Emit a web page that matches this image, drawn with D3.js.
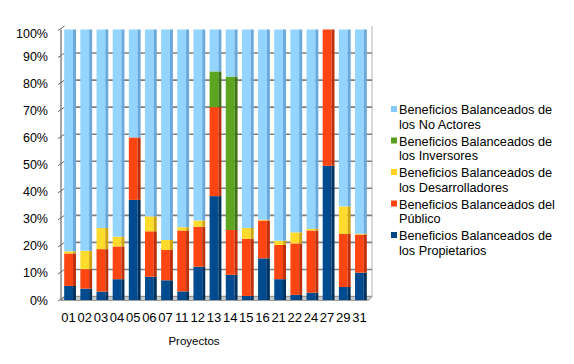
<!DOCTYPE html>
<html lang="es">
<head>
    <meta charset="UTF-8">
    <script src="https://cdn.jsdelivr.net/npm/d3@7"></script>
    <style>
        body{ margin:0; background:#fff; }
        text{ font-family:"Liberation Sans", Arial, sans-serif; fill:#000; }
    </style>
    <title>Beneficios Balanceados</title>
</head>
<body>
    <svg height="364" width="574"></svg>
    <script>
        // categorias (proyectos)
        var proyectos = ["01","02","03","04","05","06","07","11","12","13","14","15","16","21","22","24","27","29","31"];
        // valores en %, de abajo hacia arriba
        var propietarios   = [5.2, 4.2, 3.1, 7.7, 37.0, 8.6, 7.3, 3.2, 12.3, 38.4, 9.3, 1.5, 15.4, 7.7, 1.9, 2.7, 49.6, 4.8, 10.1];
        var publico        = [12.0, 7.2, 15.7, 12.1, 23.1, 16.8, 11.2, 22.5, 14.8, 32.9, 16.6, 21.1, 14.0, 12.7, 19.0, 23.0, 50.4, 19.6, 14.1];
        var desarrolladores= [0.8, 6.8, 7.8, 3.6, 0, 5.5, 3.7, 1.2, 2.3, 0, 0, 4.0, 0.3, 1.5, 4.1, 0.6, 0, 10.2, 0.3];
        var inversores     = [0, 0, 0, 0, 0, 0, 0, 0, 0, 13.2, 56.7, 0, 0, 0, 0, 0, 0, 0, 0];
        var noActores      = [82.0, 81.8, 73.4, 76.6, 39.9, 69.1, 77.8, 73.1, 70.6, 15.5, 17.4, 73.4, 70.3, 78.1, 75.0, 73.7, 0, 65.4, 75.5];
        var yTicks = [0, 0.1, 0.2, 0.3, 0.4, 0.5, 0.6, 0.7, 0.8, 0.9, 1];

        var series = [
            {key:"prop", name:["Beneficios Balanceados de","los Propietarios"], values:propietarios, color:"#004586", front:"#004b8f", side:"#00325f"},
            {key:"pub", name:["Beneficios Balanceados del","Público"], values:publico, color:"#ff420e", front:"#ff4612", side:"#bf300a"},
            {key:"dev", name:["Beneficios Balanceados de","los Desarrolladores"], values:desarrolladores, color:"#ffd320", front:"#ffdc2c", side:"#cfa514"},
            {key:"inv", name:["Beneficios Balanceados de","los Inversores"], values:inversores, color:"#579d1c", front:"#5ca51e", side:"#3e7413"},
            {key:"noa", name:["Beneficios Balanceados de","los No Actores"], values:noActores, color:"#83caff", front:"#94d5ff", side:"#6aa9dc"}
        ];

        var table = proyectos.map(function(p, i){
            var row = {proyecto:p};
            series.forEach(function(s){ row[s.key] = s.values[i]; });
            return row;
        });

        var svg = d3.select("svg");
        var depth = 3.5;

        var xScale = d3.scaleBand().domain(proyectos).range([62,369]).paddingInner(0.27).paddingOuter(0.135);
        var yScale = d3.scaleLinear().domain([0,1]).range([300,29.5]);

        // back wall + gridlines
        var g = svg.append("g");
        g.append("line")
            .attr("x1",372).attr("x2",372).attr("y1",yScale(1)-depth).attr("y2",yScale(0)-depth)
            .attr("stroke","#b3b3b3").attr("stroke-width",1);
        g.selectAll(".grid")
            .data(yTicks)
            .enter()
            .append("line")
            .attr("class","grid")
            .attr("x1",61+depth).attr("x2",372)
            .attr("y1",function(d){return yScale(d)-depth;})
            .attr("y2",function(d){return yScale(d)-depth;})
            .attr("stroke",function(d){return d===0 ? "#a0a0a0" : "#7f7f7f";})
            .attr("stroke-width",function(d){return d===1 ? 0 : 1.6;});

        // floor
        g.append("path")
            .attr("d","M61,"+(yScale(0)+0.5)+" L"+(61+depth)+","+(yScale(0)-depth)+" L372,"+(yScale(0)-depth)+" L"+(372-depth)+","+(yScale(0)+0.5)+" Z")
            .attr("fill","#c8c8c8").attr("stroke","#8a8a8a").attr("stroke-width",0.8);

        // left wall line with ticks
        g.append("line")
            .attr("x1",61).attr("x2",61).attr("y1",yScale(1)).attr("y2",yScale(0)+0.5)
            .attr("stroke","#6a6a6a").attr("stroke-width",1.2);
        g.selectAll(".tick")
            .data(yTicks)
            .enter()
            .append("line")
            .attr("class","tick")
            .attr("x1",58).attr("x2",61+depth)
            .attr("y1",function(d){return yScale(d)+1;})
            .attr("y2",function(d){return yScale(d)-depth;})
            .attr("stroke","#6a6a6a").attr("stroke-width",1);

        // y labels
        svg.selectAll(".ylab")
            .data(yTicks)
            .enter()
            .append("text")
            .attr("class","ylab")
            .attr("x",48)
            .attr("y",function(d){return d===1 ? yScale(d)+8 : yScale(d)+4.5;})
            .attr("text-anchor","end")
            .attr("font-size","12.5px")
            .text(function(d){return Math.round(d*100)+"%";});

        // stacked bars (100%)
        var stack = d3.stack().keys(series.map(function(s){return s.key;})).offset(d3.stackOffsetExpand);
        var layers = stack(table);
        var fw = xScale.bandwidth() - 3;

        var layer = svg.selectAll(".layer")
            .data(layers)
            .enter()
            .append("g")
            .attr("class","layer");

        layer.selectAll(".front")
            .data(function(d, i){ return d.map(function(v){ return {v:v, s:series[i]}; }); })
            .enter()
            .append("rect")
            .attr("class","front")
            .attr("x",function(d){return xScale(d.v.data.proyecto);})
            .attr("y",function(d){return yScale(d.v[1]);})
            .attr("width",fw)
            .attr("height",function(d){return yScale(d.v[0]) - yScale(d.v[1]);})
            .attr("fill",function(d){return d.s.front;});

        layer.selectAll(".side")
            .data(function(d, i){ return d.map(function(v){ return {v:v, s:series[i]}; }); })
            .enter()
            .append("rect")
            .attr("class","side")
            .attr("x",function(d){return xScale(d.v.data.proyecto) + fw;})
            .attr("y",function(d){return yScale(d.v[1]);})
            .attr("width",3)
            .attr("height",function(d){return yScale(d.v[0]) - yScale(d.v[1]);})
            .attr("fill",function(d){return d.s.side;});

        // x labels
        svg.selectAll(".xlab")
            .data(proyectos)
            .enter()
            .append("text")
            .attr("class","xlab")
            .attr("x",function(d){return xScale(d) + xScale.bandwidth()/2 - 1.5;})
            .attr("y",322)
            .attr("text-anchor","middle")
            .attr("font-size","13px")
            .text(function(d){return d;});

        svg.append("text")
            .attr("x",194)
            .attr("y",345)
            .attr("text-anchor","middle")
            .attr("font-size","11.5px")
            .text("Proyectos");

        // legend (top series first)
        var legend = svg.selectAll(".legend")
            .data(series.slice().reverse())
            .enter()
            .append("g")
            .attr("class","legend")
            .attr("transform",function(d, i){return "translate(391,"+(114 + i*31.5)+")";});
        legend.append("rect")
            .attr("x",0).attr("y",-8).attr("width",6).attr("height",6)
            .attr("fill",function(d){return d.color;});
        legend.append("text")
            .attr("x",8).attr("y",0)
            .attr("font-size","12.7px")
            .text(function(d){return d.name[0];});
        legend.append("text")
            .attr("x",8).attr("y",14.5)
            .attr("font-size","12.7px")
            .text(function(d){return d.name[1];});
    </script>
</body>
</html>
